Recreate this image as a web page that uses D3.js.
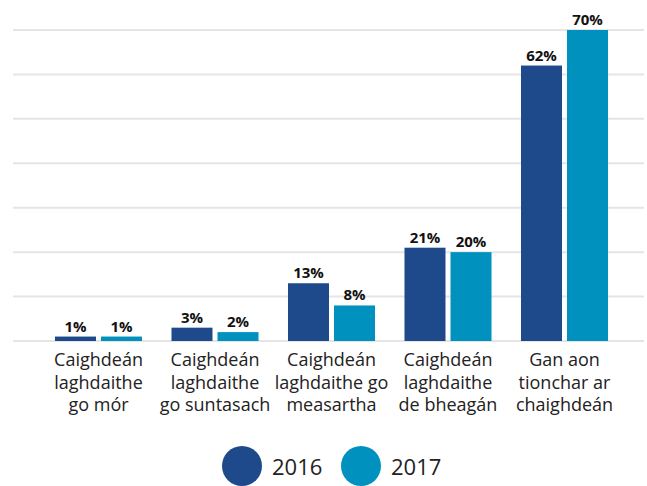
<!DOCTYPE html>
<html>
<head>
<meta charset="utf-8">
<script src="https://cdn.jsdelivr.net/npm/d3@7"></script>
<style>
body{margin:0;background:#fff;}
text{font-family:"Open Sans",sans-serif;}
</style>
</head>
<body>
<svg id="chart" width="647" height="486"></svg>
<script>
// data
var categories=[
	["Caighdeán","laghdaithe","go mór"],
	["Caighdeán","laghdaithe","go suntasach"],
	["Caighdeán","laghdaithe go","measartha"],
	["Caighdeán","laghdaithe","de bheagán"],
	["Gan aon","tionchar ar","chaighdeán"]
];
var years=["2016","2017"];
var v2016=[1,3,13,21,62];
var v2017=[1,2,8,20,70];
var yTicks=[0,10,20,30,40,50,60,70];
var colors=["#1e4a8c","#0091be"];

var svg=d3.select('#chart');
var rows=categories.map(function(c,i){return {i:i,lines:c,vals:[v2016[i],v2017[i]]};});

var x0=d3.scaleBand().domain(d3.range(categories.length)).range([40.25,622.75]).paddingInner(0.253).paddingOuter(0.1265);
var x1=d3.scaleBand().domain(years).range([0,x0.bandwidth()]).paddingInner(0.109);
var y=d3.scaleLinear().domain([0,70]).range([341,30]);

// grid
svg.append('g').selectAll('line').data(yTicks).join('line')
	.attr('x1',13).attr('x2',644)
	.attr('y1',function(d){return y(d);}).attr('y2',function(d){return y(d);})
	.attr('stroke','#e5e5e5').attr('stroke-width',2);

var g=svg.append('g').selectAll('g').data(rows).join('g')
	.attr('transform',function(d){return 'translate('+x0(d.i)+',0)';});

var bars=g.selectAll('g').data(function(d){return d.vals.map(function(v,k){return {k:k,v:v};});}).join('g');
bars.append('rect')
	.attr('x',function(d){return x1(years[d.k]);})
	.attr('y',function(d){return y(d.v);})
	.attr('width',x1.bandwidth())
	.attr('height',function(d){return y(0)-y(d.v);})
	.attr('fill',function(d){return colors[d.k];});
bars.append('text')
	.attr('x',function(d){return x1(years[d.k])+x1.bandwidth()/2;})
	.attr('y',function(d){return y(d.v)-5;})
	.attr('text-anchor','middle')
	.attr('font-size',15).attr('font-weight','bold').attr('fill','#111')
	.text(function(d){return d.v+'%';});

// category labels
g.append('text')
	.attr('text-anchor','middle').attr('font-size',18).attr('fill','#222')
	.attr('transform',function(){return 'translate('+x0.bandwidth()/2+',366)';})
	.selectAll('tspan').data(function(d){return d.lines;}).join('tspan')
	.attr('x',0).attr('y',function(d,i){return i*22.5;})
	.text(function(d){return d;});

// legend
var leg=svg.append('g').selectAll('g').data(years).join('g')
	.attr('transform',function(d,i){return 'translate('+(242+i*119)+',466)';});
leg.append('circle').attr('r',20).attr('fill',function(d,i){return colors[i];});
leg.append('text').attr('x',30).attr('y',8.5).attr('font-size',22).attr('fill','#222')
	.text(function(d){return d;});
</script>
</body>
</html>
